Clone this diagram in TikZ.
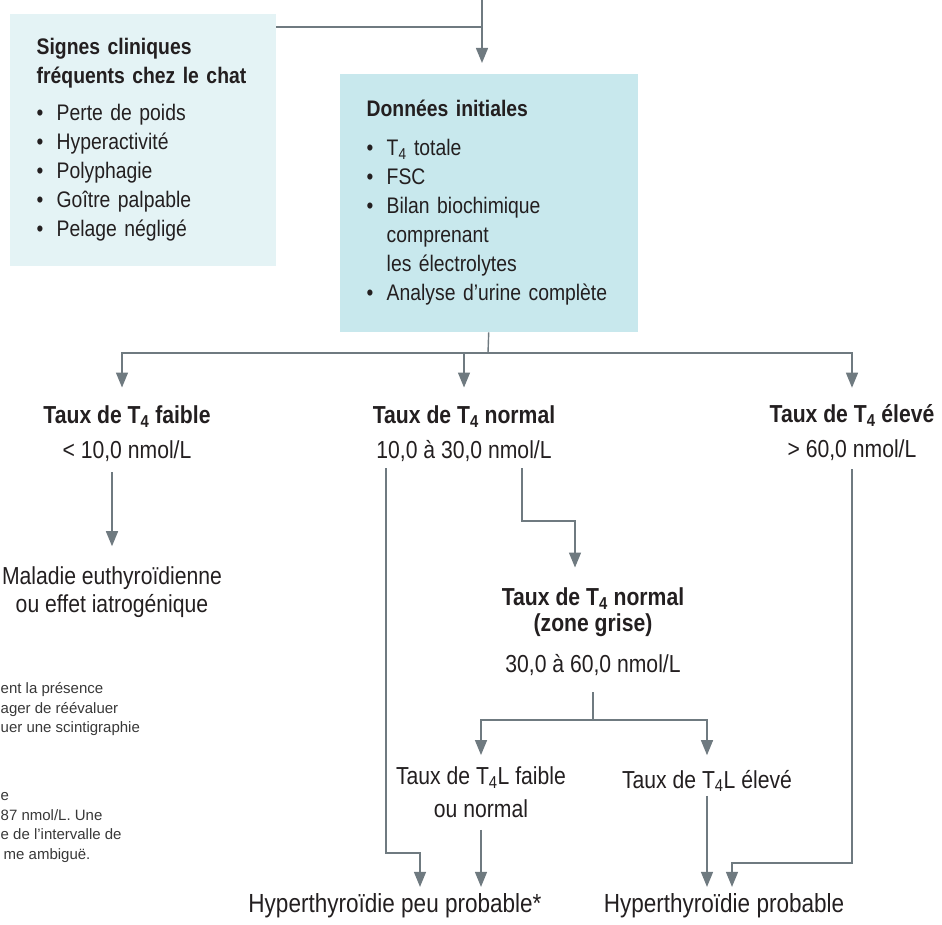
\documentclass[tikz,border=0pt]{standalone}
\usepackage{fontspec}
\setmainfont{Liberation Sans}[FakeStretch=0.86]
\newfontfamily\notefont{Liberation Sans}
\usetikzlibrary{%
  arrows.meta,% pointes Triangle
  positioning%
}
\definecolor{gristrait}{HTML}{6F7A80}
\definecolor{fondclair}{HTML}{E4F3F5}
\definecolor{fondbleu}{HTML}{C8E8ED}
\definecolor{encre}{HTML}{231F20}
\newcommand{\Tq}{T\textsubscript{4}}
\newcommand{\puce}{\makebox[20pt][l]{\textbullet}}

\begin{document}
\begin{tikzpicture}[
    x=1pt,y=-1pt,
    >={Triangle[length=15pt,width=12pt]},
    line width=1.4pt,
    every node/.style={text=encre,inner sep=0pt},
    boite/.style={anchor=north west,align=left,inner xsep=27pt,
        font=\fontsize{22.5}{29}\selectfont},
    etape/.style={align=center,font=\fontsize{24.6}{28}\selectfont},
    issue/.style={font=\fontsize{26.2}{28}\selectfont},
    note/.style={anchor=north west,align=left,text=black!78,
        font=\notefont\fontsize{15}{19.5}\selectfont}
  ]
    \useasboundingbox (0,0) rectangle (942,925);

    \node[boite,fill=fondclair,text width=212pt,minimum width=266pt,
        minimum height=252pt] (signes) at (9,13)
        {\textbf{Signes cliniques}\\\textbf{fréquents chez le chat}\\[8pt]
         \puce Perte de poids\\
         \puce Hyperactivité\\
         \puce Polyphagie\\
         \puce Goître palpable\\
         \puce Pelage négligé};
    \node[boite,fill=fondbleu,text width=244pt,minimum width=298pt,
        minimum height=258pt] (donnees) at (339,73)
        {\textbf{Données initiales}\\[10pt]
         \puce \Tq\ totale\\
         \puce FSC\\
         \puce Bilan biochimique\\
         \hspace*{20pt}comprenant\\
         \hspace*{20pt}les électrolytes\\
         \puce Analyse d’urine complète};

    \node[etape] (faible) at (127,434) {\textbf{Taux de \Tq\ faible}\\[7pt]< 10,0 nmol/L};
    \node[etape] (normal) at (464,434) {\textbf{Taux de \Tq\ normal}\\[7pt]10,0 à 30,0 nmol/L};
    \node[etape] (eleve)  at (852,433) {\textbf{Taux de \Tq\ élevé}\\[7pt]> 60,0 nmol/L};
    \node[etape] (maladie) at (112,592) {Maladie euthyroïdienne\\ou effet iatrogénique};
    \node[etape] (gris) at (593,632)
        {\textbf{Taux de \Tq\ normal}\\[-2pt]\textbf{(zone grise)}\\[13pt]30,0 à 60,0 nmol/L};
    \node[etape] (libfaible) at (481,792) {Taux de \Tq L faible\\[5pt]ou normal};
    \node[etape] (libeleve)  at (707,781) {Taux de \Tq L élevé};
    \node[issue] (peu)      at (395,906) {Hyperthyroïdie peu probable*};
    \node[issue] (probable) at (724,906) {Hyperthyroïdie probable};

    \node[note] (note1) at (0,679.4)
        {\strut ent la présence\\ager de réévaluer\\uer une scintigraphie};
    \node[note] (note2) at (0,786.4)
        {\strut e\\87 nmol/L. Une\\e de l’intervalle de\\\hspace*{3pt}me ambiguë.};

    \coordinate (entree)  at (482,0);
    \coordinate (coude)   at (482,27);
    \coordinate (branche) at (488,353);
    \coordinate (coudeM)  at (522,521);
    \coordinate (coudeG)  at (386,853);
    \coordinate (coudeD)  at (852,863);
    \coordinate (fourche) at (593,720);

    \begin{scope}[color=gristrait]
     \draw (signes.east |- coude) -- (coude);
     \draw[->,shorten >=10pt] (entree) -- (entree |- donnees.north);
     \draw (donnees.south) -- (branche);
     \draw[->,shorten >=17.8pt] (branche) -| ([xshift=-5pt]faible.north);
     \draw[->,shorten >=17.8pt] (branche) -| (normal.north);
     \draw[->,shorten >=16.5pt] (branche) -| (eleve.north);
     \draw[->,shorten <=9.8pt,shorten >=19.6pt] (maladie.north |- faible.south) -- (maladie.north);
     \draw[->,shorten <=5.8pt,shorten >=19.8pt] (normal.south -| coudeM) -- (coudeM) -| ([xshift=-18pt]gris.north);
     \draw[->,shorten <=5.8pt,shorten >=6.2pt] (normal.south -| coudeG) -- (coudeG) -| ([xshift=25pt]peu.north);
     \draw[->,shorten <=7.5pt,shorten >=6.2pt] (eleve.south) -- (coudeD) -| ([xshift=8pt]probable.north);
     \draw[shorten <=15.8pt] (gris.south) -- (fourche);
     \draw[->,shorten >=10.7pt] (fourche) -| (libfaible.north);
     \draw[->,shorten >=14.2pt] (fourche) -| (libeleve.north);
     \draw[->,shorten <=11.7pt,shorten >=6.2pt] (libfaible.south) -- (libfaible.south |- peu.north);
     \draw[->,shorten <=3.2pt,shorten >=6.2pt] (libeleve.south) -- (libeleve.south |- probable.north);
    \end{scope}
\end{tikzpicture}
\end{document}
